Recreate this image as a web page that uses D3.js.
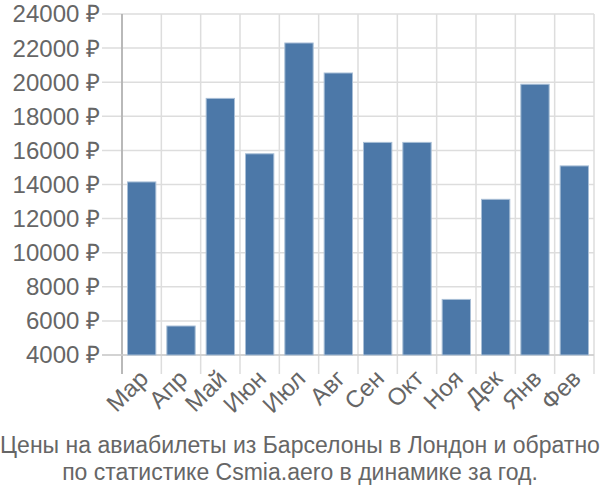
<!DOCTYPE html>
<html><head><meta charset="utf-8">
<script src="https://cdn.jsdelivr.net/npm/d3@7"></script>
<style>body{margin:0;background:#fff;} text{font-family:"Liberation Sans",Arial,sans-serif;fill:#666;}</style>
</head><body><svg id="c" width="600" height="500"></svg>
<script>
const months = ["Мар","Апр","Май","Июн","Июл","Авг","Сен","Окт","Ноя","Дек","Янв","Фев"];
const prices = [14150,5700,19050,15800,22300,20540,16470,16470,7260,13130,19880,15090];
const yTicks = [4000,6000,8000,10000,12000,14000,16000,18000,20000,22000,24000];
const titleLines = ["Цены на авиабилеты из Барселоны в Лондон и обратно","по статистике Csmia.aero в динамике за год."];

const svg = d3.select("#c");
const L=122, R=594, T=14, B=355;
const x = d3.scaleBand().domain(months).range([L,R]).paddingInner(0.28).paddingOuter(0.14);
const xg = d3.scaleBand().domain(months).range([L,R]);
const y = d3.scaleLinear().domain([4000,24000]).range([B,T]);

// horizontal grid
svg.append("g").selectAll("line").data(yTicks).join("line")
  .attr("x1",102).attr("x2",R).attr("y1",d=>y(d)).attr("y2",d=>y(d))
  .attr("stroke","#ddd").attr("stroke-width",1.5);
// vertical grid
const bounds = months.map(m=>xg(m)).concat([R]);
svg.append("g").selectAll("line").data(bounds).join("line")
  .attr("x1",d=>d).attr("x2",d=>d).attr("y1",T).attr("y2",374)
  .attr("stroke","#ddd").attr("stroke-width",1.5);
// axis lines
svg.append("line").attr("x1",L).attr("x2",L).attr("y1",T).attr("y2",374).attr("stroke","#aaa").attr("stroke-width",1.5);
svg.append("line").attr("x1",102).attr("x2",R).attr("y1",B).attr("y2",B).attr("stroke","#ccc").attr("stroke-width",1.5);

// bars
svg.append("g").selectAll("rect").data(prices).join("rect")
  .attr("x",(d,i)=>x(months[i])).attr("width",x.bandwidth())
  .attr("y",d=>y(d)).attr("height",d=>B-y(d))
  .attr("fill","#4c78a8").attr("stroke","#a8bed6").attr("stroke-width",1);

// y labels
svg.append("g").selectAll("text").data(yTicks).join("text")
  .attr("x",100).attr("y",d=>y(d)).attr("dy","0.35em").attr("text-anchor","end")
  .style("font-size","24px").text(d=>d+" ₽");

// x labels
svg.append("g").selectAll("text").data(months).join("text")
  .attr("text-anchor","end").style("font-size","24px")
  .attr("transform",d=>`translate(${xg(d)+xg.bandwidth()/2+8},${380}) rotate(-45)`)
  .text(d=>d);

// title
svg.append("g").selectAll("text").data(titleLines).join("text")
  .attr("x",300).attr("y",(d,i)=>453+i*27).attr("text-anchor","middle")
  .style("font-size","23px").text(d=>d);
</script></body></html>
